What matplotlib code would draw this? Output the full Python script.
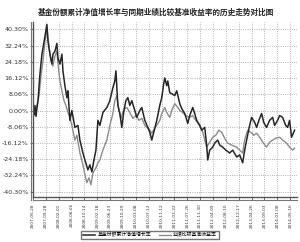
import matplotlib
matplotlib.use("Agg")
import matplotlib.pyplot as plt

plt.rcParams['font.family'] = ['Noto Sans CJK SC', 'DejaVu Sans']

title = '基金份额累计净值增长率与同期业绩比较基准收益率的历史走势对比图'
fund_name = '基金份额累计净值增长率'
bench_name = '业绩比较基准收益率'

# trading day index from start, value in %
fund_days = [0, 7, 13, 20, 26, 33, 46, 59, 66, 79, 92, 99, 112, 125, 132, 145, 158, 165,
             178, 191, 198, 211, 224, 231, 244, 257, 277, 297, 310, 330, 343, 363, 376,
             389, 403, 416, 429, 442, 462, 488, 508, 528, 541, 548, 561, 574, 587, 601,
             614, 627, 640, 653, 673, 686, 706, 719, 739, 759, 772, 785, 805, 818, 838,
             851, 865, 871, 884, 891, 904, 917, 937, 950, 970, 983, 1003, 1023, 1036,
             1056, 1069, 1082, 1102, 1115, 1135, 1148, 1155, 1168, 1188, 1201, 1221,
             1234, 1254, 1274, 1300, 1320, 1346, 1366, 1386, 1399, 1412, 1432, 1445,
             1465, 1478, 1498, 1511, 1525, 1544, 1564, 1584, 1597, 1617, 1630, 1650,
             1670, 1683, 1696, 1709, 1729]
fund_vals = [0.0, -2.0, 2.5, -2.9, 1.0, 4.9, 18.2, 28.0, 31.0, 36.9, 42.8, 34.4, 28.0,
             23.1, 28.0, 29.5, 33.4, 26.0, 23.1, 28.0, 19.7, 12.3, 6.4, 9.8, -4.9, 0.0,
             -8.4, -7.4, -14.7, -21.1, -24.6, -29.5, -27.0, -30.5, -24.6, -19.7, -4.9,
             -7.4, -1.0, 1.5, 4.9, 11.3, 14.7, 19.7, 2.5, -1.5, -8.4, 0.0, 4.9, 6.4, 2.5,
             4.9, 0.0, -3.4, 0.0, 1.5, -4.9, -8.4, -10.8, -14.7, -8.8, -4.9, 2.5, 6.4,
             13.8, 16.2, 12.3, 14.7, 8.8, 8.4, 7.4, 9.8, 3.4, 1.0, -1.5, -6.4, -2.5, 1.5,
             -1.5, -4.9, -7.4, -9.8, -8.4, -17.2, -24.6, -19.7, -18.2, -16.2, -14.7,
             -17.2, -18.2, -19.7, -21.1, -19.7, -23.1, -22.1, -26.0, -19.7, -14.7, -7.4,
             -3.4, -5.9, -8.4, -3.9, -1.5, -5.9, -8.4, -4.9, -3.4, -7.4, -4.9, -2.5,
             -3.4, -7.4, -8.4, -4.9, -13.3, -9.8]

bench_days = [0, 13, 26, 40, 53, 66, 79, 92, 106, 119, 132, 145, 158, 165, 178, 191, 205,
              218, 231, 244, 257, 277, 290, 310, 330, 343, 356, 370, 383, 396, 416, 429,
              442, 462, 475, 488, 508, 528, 541, 554, 568, 581, 594, 607, 620, 640, 660,
              680, 700, 719, 739, 752, 772, 785, 805, 818, 838, 851, 871, 884, 904, 917,
              937, 957, 970, 990, 1010, 1036, 1056, 1076, 1102, 1122, 1148, 1168, 1188,
              1208, 1228, 1247, 1267, 1287, 1313, 1346, 1366, 1386, 1399, 1419, 1439,
              1459, 1478, 1498, 1518, 1544, 1564, 1584, 1604, 1630, 1650, 1676, 1696,
              1716, 1729]
bench_vals = [0.0, -2.5, 2.5, 7.4, 17.2, 24.6, 34.4, 40.3, 31.9, 24.6, 22.1, 27.0, 29.5,
              23.6, 14.7, 9.8, 4.9, 2.5, -1.0, -3.4, -7.4, -14.7, -12.3, -21.1, -27.0,
              -31.9, -35.9, -33.4, -36.9, -31.0, -28.5, -26.0, -24.6, -19.7, -17.2, -14.7,
              -7.4, -1.5, 4.9, 7.4, 0.0, -3.9, -1.0, 1.0, 1.5, -1.0, -3.9, -2.5, -4.9,
              -3.9, -7.4, -8.4, -9.8, -11.3, -8.8, -7.4, -4.9, -1.5, 1.5, -1.0, -3.4, 0.0,
              3.4, 1.5, 0.0, -1.0, -2.5, -3.4, -2.5, -4.9, -7.4, -10.8, -18.2, -15.7,
              -13.3, -12.3, -9.8, -10.8, -13.8, -16.2, -17.2, -18.2, -19.7, -21.1, -14.7,
              -9.8, -10.8, -12.3, -11.3, -13.3, -15.7, -18.2, -15.7, -14.7, -13.8, -13.3,
              -14.7, -16.2, -18.2, -19.7, -18.7]

tick_days = [i * 85 for i in range(21)]
tick_labels = ['2007-05-28', '2007-09-28', '2008-02-01', '2008-06-06', '2008-10-14',
               '2009-02-18', '2009-06-23', '2009-10-29', '2010-03-08', '2010-07-12',
               '2010-11-12', '2011-03-22', '2011-07-26', '2011-11-30', '2012-04-09',
               '2012-08-10', '2012-12-17', '2013-04-26', '2013-09-03', '2014-01-08',
               '2014-05-16']
y_ticks = [40.30, 32.24, 24.18, 16.12, 8.06, 0.0, -8.06, -16.12, -24.18, -32.24, -40.30]

fig = plt.figure(figsize=(3.0, 2.42), dpi=100)
ax = fig.add_axes([33 / 300, 1 - 197 / 242, 264 / 300, 175 / 242])

ax.plot(bench_days, bench_vals, color='#8c8c8c', lw=1.0, label=bench_name)
ax.plot(fund_days, fund_vals, color='#262626', lw=1.1, label=fund_name)

ax.set_xlim(0, 1745)
ax.set_ylim(-43, 44)
ax.set_xticks(tick_days)
ax.set_xticklabels(tick_labels, rotation=90, fontsize=3.1, family='DejaVu Sans')
ax.set_yticks(y_ticks)
ax.set_yticklabels(['%.2f%%' % v for v in y_ticks], fontsize=4.6, family='DejaVu Sans')
ax.tick_params(length=2, width=0.5, pad=1, colors='#333333')
ax.tick_params(axis='x', pad=2.5)
ax.grid(True, linestyle=':', color='#999999', lw=0.6)

for s in ['top', 'right']:
    ax.spines[s].set_visible(False)
for s in ['left', 'bottom']:
    ax.spines[s].set_linewidth(1.0)
    ax.spines[s].set_color('#555555')
# second line of the double axis
ax.plot([0, 1], [-0.015, -0.015], transform=ax.transAxes, color='#777777', lw=0.8, clip_on=False)
ax.plot([-0.008, -0.008], [-0.015, 1], transform=ax.transAxes, color='#777777', lw=0.8, clip_on=False)

fig.text(0.52, 1 - 12 / 242, title, ha='center', va='center', fontsize=5.5,
         fontweight='bold', color='#222222')

h, l = ax.get_legend_handles_labels()
fig.legend(h[::-1], l[::-1], loc='center', bbox_to_anchor=(0.5, 1 - 235 / 242), ncol=2,
           fontsize=3.5, frameon=True, fancybox=False, edgecolor='#555555',
           handlelength=2.5, columnspacing=1.5, borderpad=0.35, handletextpad=0.5)

fig.savefig('out.png', dpi=100)
